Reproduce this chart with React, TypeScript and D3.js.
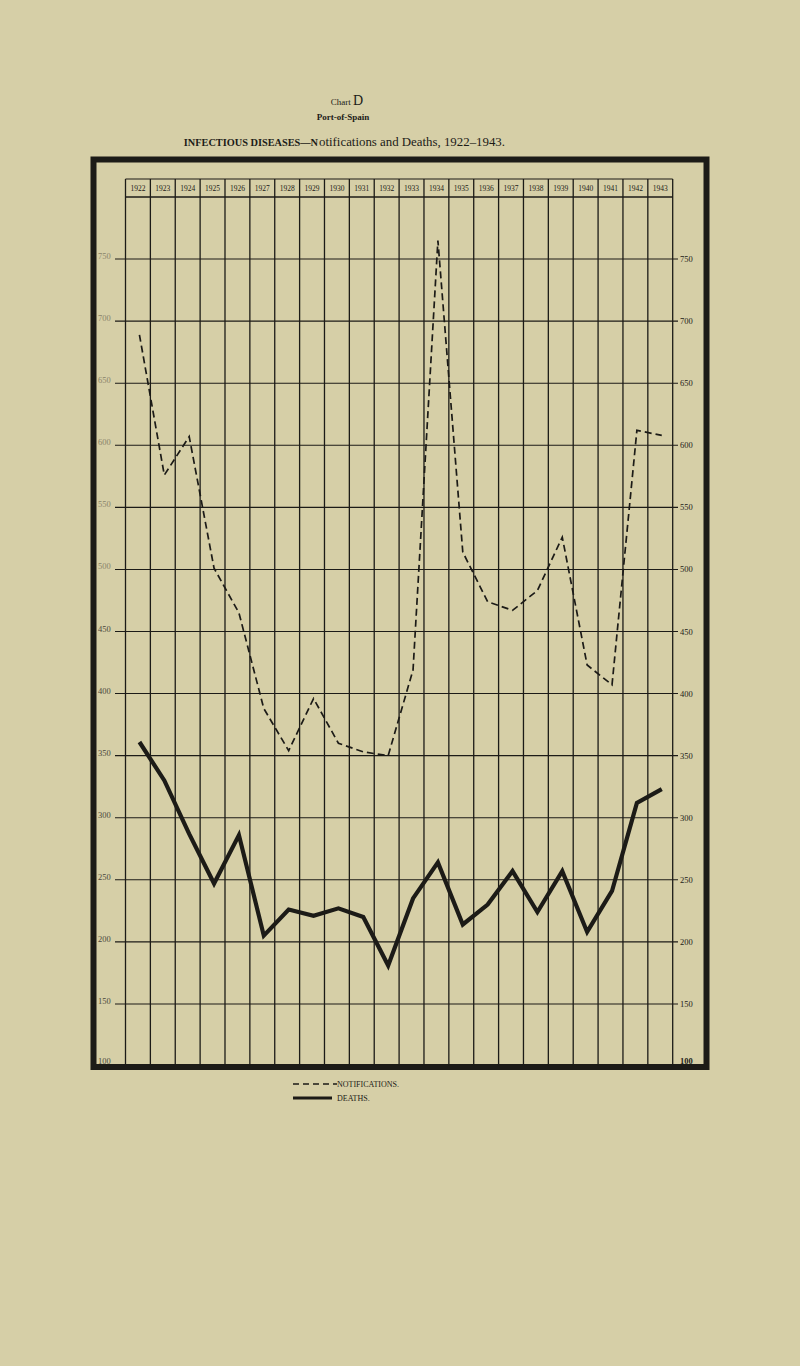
import React from "react";
import * as d3 from "d3";

const years = ["1922","1923","1924","1925","1926","1927","1928","1929","1930","1931","1932","1933","1934","1935","1936","1937","1938","1939","1940","1941","1942","1943"];
const notifications = [689, 576, 607, 501, 465, 388, 354, 396, 360, 353, 350, 419, 765, 514, 474, 467, 483, 526, 423, 407, 612, 608];
const deaths = [361, 330, 287, 247, 286, 205, 226, 221, 227, 220, 181, 235, 264, 214, 230, 257, 224, 257, 208, 241, 312, 323];
const yTicks = [750, 700, 650, 600, 550, 500, 450, 400, 350, 300, 250, 200, 150];
const labelTicks = [750, 700, 650, 600, 550, 500, 450, 400, 350, 300, 250, 200, 150, 100];

const W = 800, H = 1366;
const INK = "#1c1b17";
const PAPER = "#d6cfa7";

export default function App() {
  const x = d3.scaleBand<string>().domain(years).range([125.5, 672.7]).padding(0);
  const y = d3.scaleLinear().domain([100, 800]).range([1066, 197]);
  const cx = (i: number) => (x(years[i]) as number) + x.bandwidth() / 2 + 1.5;

  const line = d3.line<number>().x((_, i) => cx(i)).y((d) => y(d));

  const headerTop = 179;
  const headerBot = y(800);
  const bottom = 1066;
  const colBounds = years.map((yr) => x(yr) as number).concat([672.7]);

  return (
    <svg width={W} height={H} style={{ position: "absolute", left: 0, top: 0, background: PAPER }} fontFamily="'Liberation Serif', 'DejaVu Serif', serif">
      <rect x={0} y={0} width={W} height={H} fill={PAPER} />
      {/* Titles */}
      <text x={347} y={105} textAnchor="middle" fill={INK} fontSize={9}>
        Chart <tspan fontSize={14}>D</tspan>
      </text>
      <text x={343} y={120} textAnchor="middle" fill={INK} fontSize={9} fontWeight="bold">Port-of-Spain</text>
      <text x={318} y={146} textAnchor="end" fill={INK} fontSize={10.3} fontWeight="bold">INFECTIOUS DISEASES—N</text>
      <text x={319} y={146} fill={INK} fontSize={13} textLength={186} lengthAdjust="spacingAndGlyphs">otifications and Deaths, 1922–1943.</text>

      {/* Outer frame */}
      <rect x={93.5} y={159.5} width={613} height={907.5} fill="none" stroke={INK} strokeWidth={6} />

      {/* Header */}
      <line x1={125.5} x2={672.7} y1={headerTop} y2={headerTop} stroke={INK} strokeWidth={1.2} />
      <line x1={125.5} x2={672.7} y1={headerBot} y2={headerBot} stroke={INK} strokeWidth={1.6} />
      {years.map((yr) => (
        <text key={yr} x={(x(yr) as number) + x.bandwidth() / 2} y={191} textAnchor="middle" fontSize={7.5} fill={INK}>
          {yr}
        </text>
      ))}

      {/* Vertical grid */}
      {colBounds.map((b, i) => (
        <line key={"v" + i} x1={b} x2={b} y1={headerTop} y2={bottom} stroke={INK} strokeWidth={1.3} />
      ))}

      {/* Horizontal grid */}
      {yTicks.map((t) => (
        <line key={"h" + t} x1={115} x2={678} y1={y(t)} y2={y(t)} stroke={INK} strokeWidth={1.1} />
      ))}

      {/* Left labels */}
      {labelTicks.map((t) => (
        <text key={"l" + t} x={98} y={y(t) - (t === 100 ? 2 : 0)} fontSize={8.5} fill={t >= 500 ? "#8a846a" : "#4a473c"}>
          {t}
        </text>
      ))}
      {/* Right labels */}
      {labelTicks.map((t) => (
        <text key={"r" + t} x={680} y={y(t) + 3 - (t === 100 ? 5 : 0)} fontSize={8.5} fill={INK} fontWeight={t === 100 ? "bold" : "normal"}>
          {t}
        </text>
      ))}

      {/* Series */}
      <path d={line(notifications) || ""} fill="none" stroke={INK} strokeWidth={1.7} strokeDasharray="7,4" strokeLinejoin="miter" />
      <path d={line(deaths) || ""} fill="none" stroke={INK} strokeWidth={4.2} strokeLinejoin="miter" strokeLinecap="butt" />

      {/* Legend */}
      <line x1={293} x2={337} y1={1084} y2={1084} stroke={INK} strokeWidth={1.4} strokeDasharray="6,4" />
      <text x={337} y={1087} fontSize={8} fill={INK}>NOTIFICATIONS.</text>
      <line x1={293} x2={332} y1={1098} y2={1098} stroke={INK} strokeWidth={3} />
      <text x={337} y={1101} fontSize={8} fill={INK}>DEATHS.</text>
    </svg>
  );
}
